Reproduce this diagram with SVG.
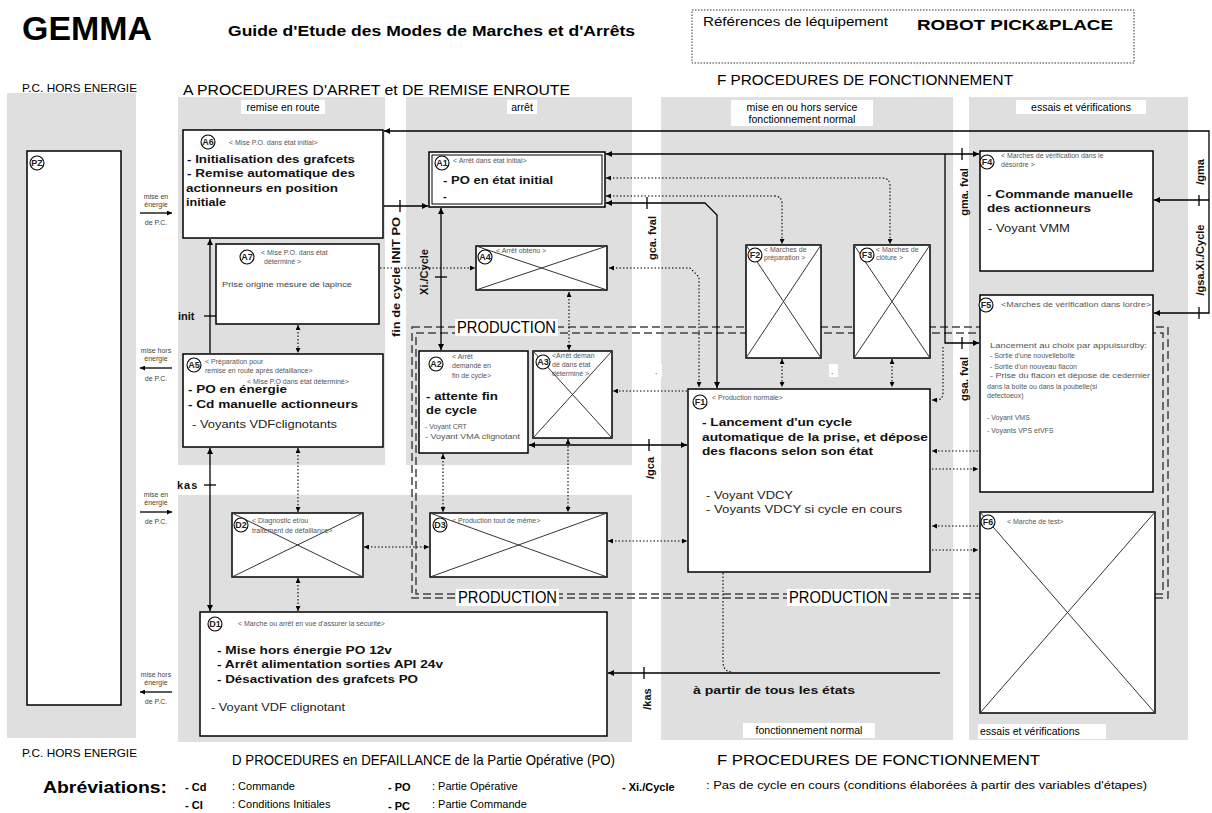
<svg xmlns="http://www.w3.org/2000/svg" width="1212" height="813" viewBox="0 0 1212 813">
<defs>
<style>
.pan{fill:#dfdfdf}
.box{fill:#fff;stroke:#000;stroke-width:1.5}
.thin{fill:none;stroke:#000;stroke-width:1}
.x{stroke:#333;stroke-width:1}
.hd{font-family:'Liberation Sans',sans-serif;font-size:7px;fill:#555}
.b{font-family:'Liberation Sans',sans-serif;font-weight:bold;font-size:11px;fill:#111}
.r{font-family:'Liberation Sans',sans-serif;font-size:11px;fill:#222}
.sm{font-family:'Liberation Sans',sans-serif;font-size:7.5px;fill:#444}
.t{font-family:'Liberation Sans',sans-serif;fill:#000}
.wb{fill:#fff}
.s{fill:none;stroke:#000;stroke-width:1.3}
.d{fill:none;stroke:#000;stroke-width:1.1;stroke-dasharray:1.5 2}
.pd{fill:none;stroke:#444;stroke-width:1.5;stroke-dasharray:8 4}
.ck{fill:#fff;stroke:#000;stroke-width:1.1}
.cl{font-family:'Liberation Sans',sans-serif;font-weight:bold;font-size:9px;text-anchor:middle;fill:#222}
.tk{stroke:#000;stroke-width:1.3}
.lb{font-family:'Liberation Sans',sans-serif;font-weight:bold;font-size:11px;fill:#111}
.pc{font-family:'Liberation Sans',sans-serif;font-size:7px;fill:#444;text-anchor:middle}
</style>
<marker id="a" viewBox="0 0 10 10" refX="10" refY="5" markerUnits="userSpaceOnUse" markerWidth="7" markerHeight="6" orient="auto-start-reverse"><path d="M0,0 L10,5 L0,10z" fill="#000"/></marker>
<marker id="ad" viewBox="0 0 10 10" refX="10" refY="5" markerUnits="userSpaceOnUse" markerWidth="5" markerHeight="5" orient="auto-start-reverse"><path d="M0,0 L10,5 L0,10z" fill="#000"/></marker>
</defs>
<rect width="1212" height="813" fill="#fff"/>

<!-- Header -->
<text class="t" x="22" y="40" font-size="34" font-weight="bold" textLength="130" lengthAdjust="spacingAndGlyphs">GEMMA</text>
<text class="t" x="228" y="36" font-size="15" font-weight="bold" textLength="407" lengthAdjust="spacingAndGlyphs">Guide d'Etude des Modes de Marches et d'Arrêts</text>
<rect x="692" y="10" width="442" height="53" fill="none" stroke="#333" stroke-width="1" stroke-dasharray="1.5 1.5"/>
<text class="t" x="703" y="26" font-size="13" textLength="185" lengthAdjust="spacingAndGlyphs">Références de léquipement</text>
<text class="t" x="917" y="30" font-size="15" font-weight="bold" textLength="196" lengthAdjust="spacingAndGlyphs">ROBOT PICK&amp;PLACE</text>

<!-- Panels -->
<rect class="pan" x="7" y="93" width="129" height="645"/>
<rect class="pan" x="178" y="97" width="207" height="368"/>
<rect class="pan" x="406" y="97" width="226" height="368"/>
<rect class="pan" x="178" y="495" width="454" height="247"/>
<rect class="pan" x="661" y="97" width="292" height="643"/>
<rect class="pan" x="969" y="97" width="219" height="643"/>

<text class="t" x="22" y="92" font-size="11" textLength="115" lengthAdjust="spacingAndGlyphs">P.C. HORS ENERGIE</text>
<text class="t" x="183" y="95" font-size="15" textLength="387" lengthAdjust="spacingAndGlyphs">A  PROCEDURES D'ARRET et DE REMISE ENROUTE</text>
<text class="t" x="717" y="85" font-size="15" textLength="296" lengthAdjust="spacingAndGlyphs">F  PROCEDURES DE FONCTIONNEMENT</text>

<rect class="wb" x="241" y="100" width="84" height="14"/>
<text class="t" x="283" y="111" font-size="10.5" text-anchor="middle">remise en route</text>
<rect class="wb" x="507" y="100" width="30" height="14"/>
<text class="t" x="522" y="111" font-size="10.5" text-anchor="middle">arrêt</text>
<rect class="wb" x="731" y="100" width="142" height="26"/>
<text class="t" x="802" y="111" font-size="10.5" text-anchor="middle">mise en ou hors service</text>
<text class="t" x="802" y="123" font-size="10.5" text-anchor="middle">fonctionnement normal</text>
<rect class="wb" x="1016" y="100" width="130" height="14"/>
<text class="t" x="1081" y="111" font-size="10.5" text-anchor="middle">essais et vérifications</text>

<rect class="wb" x="743" y="723" width="132" height="15"/>
<text class="t" x="809" y="734" font-size="10.5" text-anchor="middle">fonctionnement normal</text>
<rect class="wb" x="978" y="724" width="128" height="15"/>
<text class="t" x="980" y="735" font-size="10.5">essais et vérifications</text>

<!-- PRODUCTION dashed frame -->
<g id="production">
<rect class="pd" x="412" y="327" width="756" height="271"/>
<rect class="pd" x="416" y="333" width="747" height="261"/>
<rect class="wb" x="455" y="319" width="103" height="17"/>
<text class="t" x="457" y="333" font-size="16" textLength="99" lengthAdjust="spacingAndGlyphs">PRODUCTION</text>
<rect class="wb" x="456" y="589" width="103" height="17"/>
<text class="t" x="458" y="603" font-size="16" textLength="99" lengthAdjust="spacingAndGlyphs">PRODUCTION</text>
<rect class="wb" x="787" y="589" width="103" height="17"/>
<text class="t" x="789" y="603" font-size="16" textLength="99" lengthAdjust="spacingAndGlyphs">PRODUCTION</text>
</g>

<!-- Connectors -->
<g id="connectors">
<!-- left PC arrows -->
<line class="s" x1="140" y1="213" x2="172" y2="213" stroke-width="1" marker-end="url(#ad)"/>
<line class="s" x1="172" y1="368" x2="140" y2="368" stroke-width="1" marker-end="url(#ad)"/>
<line class="s" x1="140" y1="512" x2="172" y2="512" stroke-width="1" marker-end="url(#ad)"/>
<line class="s" x1="172" y1="692" x2="140" y2="692" stroke-width="1" marker-end="url(#ad)"/>

<!-- top loop F4/F5 -> A6 -->
<path class="s" d="M1209,200 V131 H384" marker-end="url(#a)"/>
<path class="s" d="M1209,200 V313 H1154" marker-end="url(#a)"/>
<path class="s" d="M1209,200 H1154" marker-end="url(#a)"/>
<line class="tk" x1="1199" y1="195" x2="1199" y2="206"/>
<line class="tk" x1="1199" y1="307" x2="1199" y2="319"/>

<!-- A1 -> F4 / F5 -->
<path class="s" d="M606,154 H979" marker-start="url(#a)" marker-end="url(#a)"/>
<path class="s" d="M945,154 V343 H979" marker-end="url(#a)"/>
<line class="tk" x1="962" y1="148" x2="962" y2="160"/>
<line class="tk" x1="962" y1="337" x2="962" y2="349"/>

<!-- A1 -> F1 -->
<path class="s" d="M606,203 H705 L717,215 V388" marker-start="url(#a)" marker-end="url(#a)"/>
<line class="tk" x1="647" y1="197" x2="647" y2="209"/>

<!-- A6 -> A1 -->
<path class="s" d="M384,206 H428" marker-end="url(#a)"/>
<line class="tk" x1="400" y1="200" x2="400" y2="212"/>

<!-- A2 -> A1 -->
<path class="s" d="M441,350 V208" marker-start="url(#a)" marker-end="url(#a)"/>
<line class="tk" x1="435" y1="277" x2="447" y2="277"/>

<!-- A5 -> A6 -->
<path class="s" d="M210,353 V239" marker-end="url(#a)"/>
<line class="tk" x1="204" y1="316" x2="216" y2="316"/>

<!-- D1 -> A5 -->
<path class="s" d="M210,611 V448" marker-start="url(#a)" marker-end="url(#a)"/>
<line class="tk" x1="204" y1="485" x2="216" y2="485"/>

<!-- F1 -> A2 -->
<path class="s" d="M687,445 H529" marker-start="url(#a)" marker-end="url(#a)"/>
<line class="tk" x1="649" y1="439" x2="649" y2="451"/>

<!-- all states -> D1 -->
<path class="s" d="M940,673 H608" marker-end="url(#a)"/>
<line class="tk" x1="644" y1="667" x2="644" y2="679"/>
<path class="d" d="M723,573 V662 Q723,672 733,672"/>

<!-- dotted -->
<path class="d" d="M380,268 H475" marker-end="url(#ad)"/>
<path class="d" d="M609,268 H690 L699,277 V387" marker-start="url(#ad)" marker-end="url(#ad)"/>
<path class="d" d="M606,178 H882 Q890,178 890,186 V244" marker-start="url(#ad)" marker-end="url(#ad)"/>
<path class="d" d="M606,196 H774 Q782,196 782,204 V244" marker-start="url(#ad)" marker-end="url(#ad)"/>
<path class="d" d="M782,359 V387" marker-start="url(#ad)" marker-end="url(#ad)"/>
<path class="d" d="M892,359 V387" marker-start="url(#ad)" marker-end="url(#ad)"/>
<path class="d" d="M943,347 V393 Q943,400 936,400 H932" marker-end="url(#ad)"/>
<path class="d" d="M687,391 H613" marker-end="url(#ad)"/>
<path class="d" d="M569,292 V350" marker-start="url(#ad)" marker-end="url(#ad)"/>
<path class="d" d="M568,439 V512" marker-start="url(#ad)" marker-end="url(#ad)"/>
<path class="d" d="M443,454 V512" marker-start="url(#ad)" marker-end="url(#ad)"/>
<path class="d" d="M298,325 V353" marker-start="url(#ad)" marker-end="url(#ad)"/>
<path class="d" d="M298,448 V512" marker-start="url(#ad)" marker-end="url(#ad)"/>
<path class="d" d="M298,578 V611" marker-start="url(#ad)" marker-end="url(#ad)"/>
<path class="d" d="M364,547 H429" marker-start="url(#ad)" marker-end="url(#ad)"/>
<path class="d" d="M608,541 H687" marker-start="url(#ad)" marker-end="url(#ad)"/>
<path class="d" d="M978,451 H932" marker-end="url(#ad)"/>
<path class="d" d="M932,469 H978" marker-end="url(#ad)"/>
<path class="d" d="M978,526 H932" marker-end="url(#ad)"/>
<path class="d" d="M932,550 H978" marker-end="url(#ad)"/>
</g>

<!-- connector labels -->
<g id="labels">
<text class="pc" x="156" y="199">mise en</text>
<text class="pc" x="156" y="207">énergie</text>
<text class="pc" x="156" y="225">de P.C.</text>
<text class="pc" x="156" y="353">mise hors</text>
<text class="pc" x="156" y="361">énergie</text>
<text class="pc" x="156" y="381">de P.C.</text>
<text class="pc" x="156" y="497">mise en</text>
<text class="pc" x="156" y="505">énergie</text>
<text class="pc" x="156" y="524">de P.C.</text>
<text class="pc" x="156" y="677">mise hors</text>
<text class="pc" x="156" y="685">énergie</text>
<text class="pc" x="156" y="704">de P.C.</text>

<text class="lb" transform="translate(400,337) rotate(-90)" textLength="120" lengthAdjust="spacingAndGlyphs">fin de cycle INIT PO</text>
<text class="lb" transform="translate(428,272) rotate(-90)" text-anchor="middle" font-size="10">Xi./Cycle</text>
<text class="lb" transform="translate(656,238) rotate(-90)" text-anchor="middle" font-size="10">gca. fval</text>
<text class="lb" transform="translate(968,192) rotate(-90)" text-anchor="middle" font-size="10">gma. fval</text>
<text class="lb" transform="translate(968,379) rotate(-90)" text-anchor="middle" font-size="10">gsa. fval</text>
<text class="lb" transform="translate(1204,172) rotate(-90)" text-anchor="middle" font-size="10">/gma</text>
<text class="lb" transform="translate(1204,260) rotate(-90)" text-anchor="middle" font-size="10">/gsa.Xi./Cycle</text>
<text class="lb" transform="translate(654,468) rotate(-90)" text-anchor="middle" font-size="10">/gca</text>
<text class="lb" transform="translate(651,699) rotate(-90)" text-anchor="middle" font-size="10">/kas</text>
<text class="lb" x="178" y="320">init</text>
<text class="lb" x="177" y="489" letter-spacing="1">kas</text>
<text class="lb" x="693" y="694" textLength="162" lengthAdjust="spacingAndGlyphs">à partir de tous les états</text>
<rect class="wb" x="652" y="364" width="10" height="13"/>
<text class="t" x="655" y="374" font-size="8">.</text>
<rect class="wb" x="829" y="364" width="9" height="13"/>
<text class="t" x="831" y="374" font-size="8">.</text>
</g>

<!-- Nodes -->
<g id="PZ">
<rect class="box" x="27" y="151" width="94" height="554"/>
<circle class="ck" cx="37" cy="163" r="7"/><text class="cl" x="37" y="166">PZ</text>
</g>

<g id="A6">
<rect class="box" x="183" y="130" width="200" height="108"/>
<circle class="ck" cx="208" cy="142" r="7"/><text class="cl" x="208" y="145">A6</text>
<text class="hd" x="229" y="145">&lt; Mise P.O. dans état initial&gt;</text>
<text class="b" x="187" y="163" textLength="168" lengthAdjust="spacingAndGlyphs">- Initialisation des grafcets</text>
<text class="b" x="187" y="177" textLength="168" lengthAdjust="spacingAndGlyphs">- Remise automatique des</text>
<text class="b" x="186" y="192" textLength="152" lengthAdjust="spacingAndGlyphs">actionneurs en position</text>
<text class="b" x="186" y="206" textLength="40" lengthAdjust="spacingAndGlyphs">initiale</text>
</g>

<g id="A7">
<rect class="box" x="216" y="244" width="163" height="80"/>
<circle class="ck" cx="247" cy="257" r="7"/><text class="cl" x="247" y="260">A7</text>
<text class="hd" x="261" y="255">&lt; Mise P.O. dans état</text>
<text class="hd" x="264" y="264">déterminé &gt;</text>
<text class="sm" x="222" y="287" textLength="130" lengthAdjust="spacingAndGlyphs">Prise origine mésure de lapince</text>
</g>

<g id="A1">
<rect class="box" x="429" y="152" width="176" height="55" stroke-width="1.2"/>
<rect class="thin" x="432" y="155" width="170" height="49"/>
<circle class="ck" cx="442" cy="163" r="7"/><text class="cl" x="442" y="166">A1</text>
<text class="hd" x="453" y="163">&lt; Arrêt dans état initial&gt;</text>
<text class="b" x="443" y="184" textLength="110" lengthAdjust="spacingAndGlyphs">- PO en état initial</text>
<text class="b" x="443" y="200">-</text>
</g>

<g id="A4">
<rect class="box" x="476" y="246" width="131" height="44"/>
<line class="x" x1="476" y1="246" x2="607" y2="290"/><line class="x" x1="607" y1="246" x2="476" y2="290"/>
<circle class="ck" cx="485" cy="257" r="7"/><text class="cl" x="485" y="260">A4</text>
<text class="hd" x="496" y="253">&lt; Arrêt obtenu &gt;</text>
</g>

<g id="A5">
<rect class="box" x="183" y="354" width="200" height="93"/>
<circle class="ck" cx="194" cy="365" r="7"/><text class="cl" x="194" y="368">A5</text>
<text class="hd" x="205" y="364">&lt; Préparation pour</text>
<text class="hd" x="205" y="373">remise en route après défaillance&gt;</text>
<text class="hd" x="247" y="384">&lt; Mise P.O dans état déterminé&gt;</text>
<text class="b" x="188" y="393" textLength="99" lengthAdjust="spacingAndGlyphs">- PO en énergie</text>
<text class="b" x="188" y="408" textLength="170" lengthAdjust="spacingAndGlyphs">- Cd manuelle actionneurs</text>
<text class="r" x="192" y="428" textLength="145" lengthAdjust="spacingAndGlyphs">- Voyants VDFclignotants</text>
</g>

<g id="A2">
<rect class="box" x="419" y="351" width="109" height="102"/>
<circle class="ck" cx="436" cy="364" r="7"/><text class="cl" x="436" y="367">A2</text>
<text class="hd" x="452" y="359">&lt; Arrêt</text>
<text class="hd" x="452" y="368">demandé en</text>
<text class="hd" x="452" y="378">fin de cycle&gt;</text>
<text class="b" x="426" y="400" textLength="72" lengthAdjust="spacingAndGlyphs">- attente fin</text>
<text class="b" x="426" y="414" textLength="51" lengthAdjust="spacingAndGlyphs">de cycle</text>
<text class="hd" x="425" y="429">- Voyant CRT</text>
<text class="hd" x="425" y="439" textLength="95" lengthAdjust="spacingAndGlyphs">- Voyant VMA clignotant</text>
</g>

<g id="A3">
<rect class="box" x="533" y="351" width="79" height="87"/>
<line class="x" x1="533" y1="351" x2="612" y2="438"/><line class="x" x1="612" y1="351" x2="533" y2="438"/>
<circle class="ck" cx="543" cy="362" r="7"/><text class="cl" x="543" y="365">A3</text>
<text class="hd" x="552" y="358">&lt;Arrêt deman</text>
<text class="hd" x="552" y="367">dé dans état</text>
<text class="hd" x="552" y="376">déterminé &gt;</text>
</g>

<g id="F2">
<rect class="box" x="746" y="245" width="75" height="113"/>
<line class="x" x1="746" y1="245" x2="821" y2="358"/><line class="x" x1="821" y1="245" x2="746" y2="358"/>
<circle class="ck" cx="755" cy="255" r="7"/><text class="cl" x="755" y="258">F2</text>
<text class="hd" x="764" y="252">&lt; Marches de</text>
<text class="hd" x="764" y="260">préparation &gt;</text>
</g>

<g id="F3">
<rect class="box" x="854" y="245" width="76" height="113"/>
<line class="x" x1="854" y1="245" x2="930" y2="358"/><line class="x" x1="930" y1="245" x2="854" y2="358"/>
<circle class="ck" cx="867" cy="255" r="7"/><text class="cl" x="867" y="258">F3</text>
<text class="hd" x="876" y="252">&lt; Marches de</text>
<text class="hd" x="876" y="260">clôture &gt;</text>
</g>

<g id="F1">
<rect class="box" x="688" y="389" width="242" height="183" stroke-width="3"/>
<circle class="ck" cx="700" cy="402" r="7"/><text class="cl" x="700" y="405">F1</text>
<text class="hd" x="712" y="400">&lt; Production normale&gt;</text>
<text class="b" x="702" y="426" textLength="150" lengthAdjust="spacingAndGlyphs">- Lancement d'un cycle</text>
<text class="b" x="702" y="441" textLength="226" lengthAdjust="spacingAndGlyphs">automatique de la prise, et dépose</text>
<text class="b" x="702" y="455" textLength="171" lengthAdjust="spacingAndGlyphs">des flacons selon son état</text>
<text class="r" x="706" y="499" textLength="87" lengthAdjust="spacingAndGlyphs">- Voyant VDCY</text>
<text class="r" x="706" y="513" textLength="196" lengthAdjust="spacingAndGlyphs">- Voyants VDCY si cycle en cours</text>
</g>

<g id="F4">
<rect class="box" x="980" y="151" width="173" height="120"/>
<circle class="ck" cx="987" cy="162" r="7"/><text class="cl" x="987" y="165">F4</text>
<text class="hd" x="1001" y="158">&lt; Marches de vérification dans le</text>
<text class="hd" x="1001" y="167">désordre &gt;</text>
<text class="b" x="987" y="198" textLength="146" lengthAdjust="spacingAndGlyphs">- Commande manuelle</text>
<text class="b" x="987" y="212" textLength="104" lengthAdjust="spacingAndGlyphs">des actionneurs</text>
<text class="r" x="988" y="232" textLength="82" lengthAdjust="spacingAndGlyphs">- Voyant VMM</text>
</g>

<g id="F5">
<rect class="box" x="980" y="295" width="173" height="197"/>
<circle class="ck" cx="986" cy="305" r="7"/><text class="cl" x="986" y="308">F5</text>
<text class="hd" x="1001" y="307" textLength="150" lengthAdjust="spacingAndGlyphs">&lt;Marches de vérification dans lordre&gt;</text>
<text class="hd" x="990" y="348" textLength="157" lengthAdjust="spacingAndGlyphs">Lancement au choix  par appuisurdby:</text>
<text class="hd" x="990" y="358">- Sortie d'une nouvelleboîte</text>
<text class="hd" x="990" y="369">- Sortie d'un nouveau flacon</text>
<text class="hd" x="990" y="378" textLength="160" lengthAdjust="spacingAndGlyphs">- Prise du flacon et dépose de cedernier</text>
<text class="hd" x="987" y="389">dans la boîte ou dans la poubelle(si</text>
<text class="hd" x="987" y="398">defectoeux)</text>
<text class="hd" x="987" y="420">- Voyant VMS</text>
<text class="hd" x="987" y="433">- Voyants VPS etVFS</text>
</g>

<g id="F6">
<rect class="box" x="980" y="512" width="175" height="201"/>
<line class="x" x1="980" y1="512" x2="1155" y2="713"/><line class="x" x1="1155" y1="512" x2="980" y2="713"/>
<circle class="ck" cx="988" cy="522" r="7"/><text class="cl" x="988" y="525">F6</text>
<text class="hd" x="1007" y="524">&lt; Marche de test&gt;</text>
</g>

<g id="D2">
<rect class="box" x="232" y="513" width="131" height="64"/>
<line class="x" x1="232" y1="513" x2="363" y2="577"/><line class="x" x1="363" y1="513" x2="232" y2="577"/>
<circle class="ck" cx="241" cy="525" r="7"/><text class="cl" x="241" y="528">D2</text>
<text class="hd" x="252" y="523">&lt; Diagnostic et/ou</text>
<text class="hd" x="252" y="533">traitement de défaillance&gt;</text>
</g>

<g id="D3">
<rect class="box" x="430" y="513" width="177" height="64"/>
<line class="x" x1="430" y1="513" x2="607" y2="577"/><line class="x" x1="607" y1="513" x2="430" y2="577"/>
<circle class="ck" cx="440" cy="525" r="7"/><text class="cl" x="440" y="528">D3</text>
<text class="hd" x="452" y="523">&lt; Production tout de même&gt;</text>
</g>

<g id="D1">
<rect class="box" x="200" y="612" width="407" height="124"/>
<circle class="ck" cx="215" cy="624" r="7"/><text class="cl" x="215" y="627">D1</text>
<text class="hd" x="238" y="626">&lt; Marche ou arrêt en vue d'assurer la sécurité&gt;</text>
<text class="b" x="217" y="654" textLength="175" lengthAdjust="spacingAndGlyphs">- Mise hors énergie PO 12v</text>
<text class="b" x="217" y="668" textLength="226" lengthAdjust="spacingAndGlyphs">- Arrêt alimentation sorties API 24v</text>
<text class="b" x="217" y="683" textLength="201" lengthAdjust="spacingAndGlyphs">- Désactivation des grafcets PO</text>
<text class="r" x="211" y="711" textLength="134" lengthAdjust="spacingAndGlyphs">- Voyant VDF clignotant</text>
</g>

<!-- Footer -->
<text class="t" x="22" y="757" font-size="11" textLength="115" lengthAdjust="spacingAndGlyphs">P.C. HORS ENERGIE</text>
<text class="t" x="232" y="765" font-size="15" textLength="383" lengthAdjust="spacingAndGlyphs">D  PROCEDURES en DEFAILLANCE de la Partie Opérative (PO)</text>
<text class="t" x="717" y="765" font-size="15" textLength="323" lengthAdjust="spacingAndGlyphs">F  PROCEDURES DE FONCTIONNEMENT</text>
<text class="t" x="43" y="793" font-size="16" font-weight="bold" textLength="124" lengthAdjust="spacingAndGlyphs">Abréviations:</text>
<text class="t" x="185" y="791" font-size="11" font-weight="bold">-  Cd</text>
<text class="t" x="232" y="790" font-size="11">: Commande</text>
<text class="t" x="185" y="809" font-size="11" font-weight="bold">-  CI</text>
<text class="t" x="232" y="808" font-size="11">: Conditions Initiales</text>
<text class="t" x="388" y="791" font-size="11" font-weight="bold">-  PO</text>
<text class="t" x="432" y="790" font-size="11">: Partie Opérative</text>
<text class="t" x="388" y="810" font-size="11" font-weight="bold">-  PC</text>
<text class="t" x="432" y="808" font-size="11">: Partie Commande</text>
<text class="t" x="622" y="791" font-size="11" font-weight="bold">-  Xi./Cycle</text>
<text class="t" x="706" y="789" font-size="11" textLength="441" lengthAdjust="spacingAndGlyphs">: Pas de cycle en cours (conditions élaborées à partir des variables d'étapes)</text>
</svg>
